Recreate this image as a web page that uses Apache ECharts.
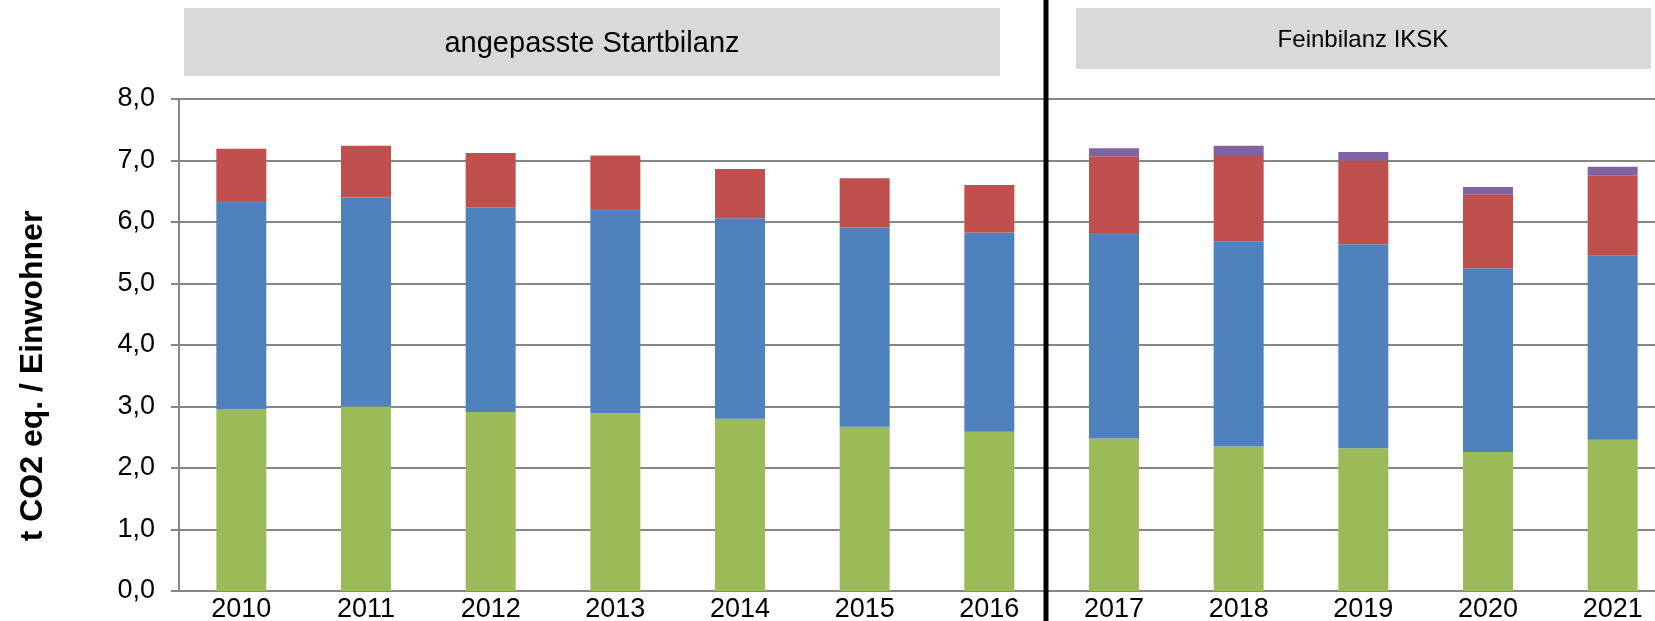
<!DOCTYPE html>
<html lang="de">
<head>
    <meta charset="UTF-8">
    <title>CO2 pro Einwohner</title>
    <style>
        html, body { margin: 0; padding: 0; background: #fff; }
    </style>
</head>
<body>
<div id="main" style="width: 1655px; height: 621px;"></div>
<script src="https://cdn.jsdelivr.net/npm/echarts@6/dist/echarts.min.js"></script>
<script>
    // Jahre und Werte (t CO2 eq. / Einwohner)
    var years = ['2010', '2011', '2012', '2013', '2014', '2015', '2016',
                 '2017', '2018', '2019', '2020', '2021'];
    var greenVals  = [2.96, 3.00, 2.91, 2.89, 2.80, 2.67, 2.59, 2.48, 2.35, 2.32, 2.26, 2.46];
    var blueVals   = [3.38, 3.40, 3.33, 3.32, 3.26, 3.24, 3.24, 3.34, 3.33, 3.32, 2.99, 2.99];
    var redVals    = [0.85, 0.84, 0.88, 0.87, 0.80, 0.80, 0.77, 1.25, 1.41, 1.36, 1.20, 1.31];
    var purpleVals = [0, 0, 0, 0, 0, 0, 0, 0.13, 0.15, 0.14, 0.12, 0.14];

    var yTicks = [0, 1, 2, 3, 4, 5, 6, 7, 8];
    var sectionLabels = ['angepasste Startbilanz', 'Feinbilanz IKSK'];
    var yAxisTitle = 't CO2 eq. / Einwohner';

    var font = 'Liberation Sans, Arial, sans-serif';
    var gridColor = '#868686';

    var myChart = echarts.init(document.getElementById('main'));

    function barSeries(name, data, color) {
        return {
            name: name,
            type: 'bar',
            stack: 'total',
            barWidth: 50,
            data: data,
            itemStyle: { color: color },
            emphasis: { disabled: true }
        };
    }

    var option = {
        animation: false,
        backgroundColor: '#fff',
        grid: {
            left: 179,
            top: 99,
            bottom: 30,
            width: 1496,
            outerBoundsMode: 'none'
        },
        xAxis: {
            type: 'category',
            data: years,
            axisLine: { lineStyle: { color: gridColor, width: 2 } },
            axisTick: { length: 30, lineStyle: { color: gridColor, width: 2 } },
            axisLabel: {
                color: '#000',
                fontFamily: font,
                fontSize: 27,
                margin: 5
            }
        },
        yAxis: {
            type: 'value',
            min: yTicks[0],
            max: yTicks[yTicks.length - 1],
            interval: 1,
            axisLine: { show: true, lineStyle: { color: gridColor, width: 2 } },
            axisTick: { show: true, length: 8, lineStyle: { color: gridColor, width: 2 } },
            splitLine: { lineStyle: { color: gridColor, width: 2 } },
            axisLabel: {
                color: '#000',
                fontFamily: font,
                fontSize: 27,
                margin: 24,
                formatter: function (v) {
                    return v.toFixed(1).replace('.', ',');
                }
            }
        },
        series: [
            barSeries('Reihe 1', greenVals, '#9bbb59'),
            barSeries('Reihe 2', blueVals, '#4f81bd'),
            barSeries('Reihe 3', redVals, '#c0504d'),
            barSeries('Reihe 4', purpleVals, '#8064a2')
        ],
        graphic: [
            // Kopfzeilen
            {
                type: 'rect',
                shape: { x: 184, y: 8, width: 816, height: 68 },
                style: { fill: '#d9d9d9' },
                z: 10
            },
            {
                type: 'text',
                x: 592, y: 44,
                style: {
                    text: sectionLabels[0],
                    font: '29px ' + font,
                    fill: '#000',
                    textAlign: 'center',
                    textVerticalAlign: 'middle'
                },
                z: 11
            },
            {
                type: 'rect',
                shape: { x: 1076, y: 8, width: 575, height: 61 },
                style: { fill: '#d9d9d9' },
                z: 10
            },
            {
                type: 'text',
                x: 1363, y: 40,
                style: {
                    text: sectionLabels[1],
                    font: '24px ' + font,
                    fill: '#000',
                    textAlign: 'center',
                    textVerticalAlign: 'middle'
                },
                z: 11
            },
            // Trennlinie
            {
                type: 'rect',
                shape: { x: 1043.5, y: 0, width: 5, height: 621 },
                style: { fill: '#000' },
                z: 20
            },
            // Achsentitel
            {
                type: 'text',
                x: 33, y: 376,
                rotation: Math.PI / 2,
                style: {
                    text: yAxisTitle,
                    font: 'bold 32px ' + font,
                    fill: '#000',
                    textAlign: 'center',
                    textVerticalAlign: 'middle'
                },
                z: 11
            }
        ]
    };

    myChart.setOption(option);
</script>
</body>
</html>
